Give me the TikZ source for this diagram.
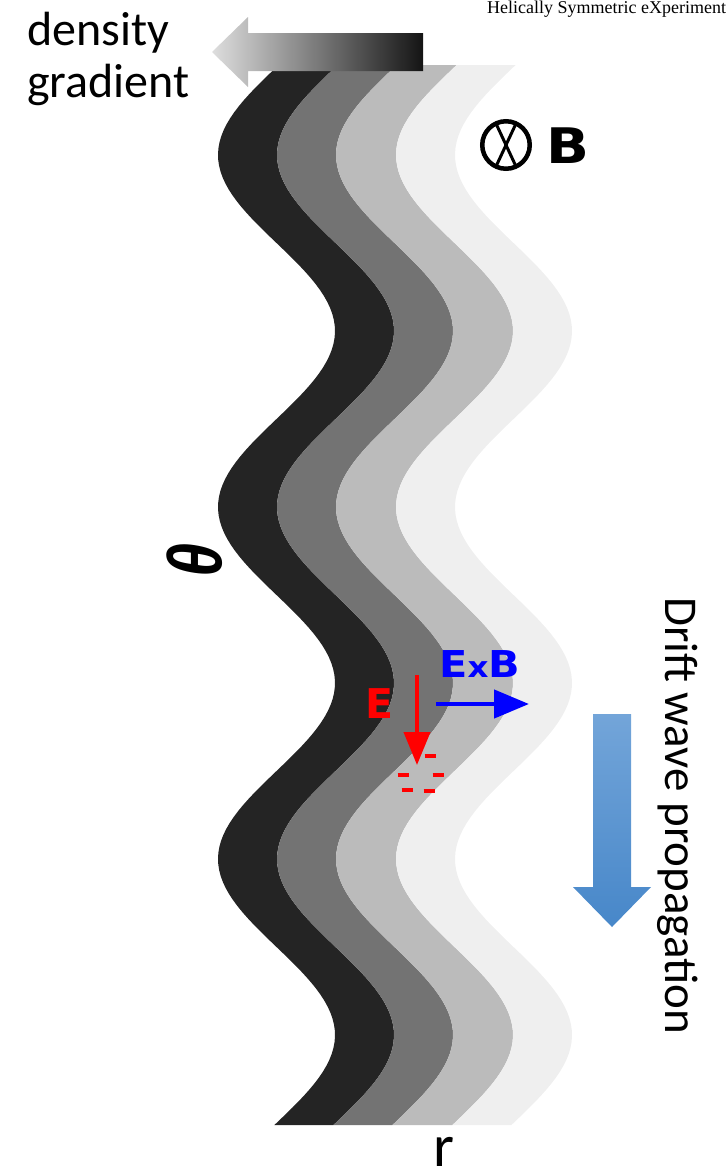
\documentclass[tikz,border=0pt]{standalone}
\usepackage{fontspec}
\setmainfont{Carlito}
\newfontfamily\labelfont{DejaVu Sans}
\newfontfamily\thetafont{Liberation Sans}
\newfontfamily\headfont{Liberation Serif}
\usetikzlibrary{arrows.meta}

\definecolor{denshi}{HTML}{242424}
\definecolor{densmid}{HTML}{737373}
\definecolor{denslo}{HTML}{BBBBBB}
\definecolor{densmin}{HTML}{EFEFEF}
\definecolor{driftA}{HTML}{73A5D9}
\definecolor{driftB}{HTML}{4787C9}

\begin{document}
\begin{tikzpicture}[x=1pt,y=-1pt,
    declare function={wave(\t)=276.5-58.5*cos((\t-155)/352*360);},
    big/.style={inner sep=0pt,font=\fontsize{48}{58}\selectfont},
    lbl/.style={inner sep=0pt,anchor=base west},
    charge/.style={red,line width=3.5pt}]
    \path[use as bounding box] (0,0) rectangle (728,1171);
    \clip (0,0) rectangle (728,1171);
    %% Density bands
    \foreach \col/\a/\b in {denshi/0/59,densmid/59/118,denslo/118/178,densmin/178/237}
        \fill[\col] plot[domain=65:1125,samples=180] ({wave(\x)+\a},\x)
            -- plot[domain=1125:65,samples=180] ({wave(\x)+\b},\x) -- cycle;
    %% Gradient arrow
    \shade[left color=black!13,middle color=black!24,right color=black!92]
        (423,33) -- (248,33) -- (248,17) -- (212,52) -- (248,87) -- (248,71) -- (423,71) -- cycle;
    \node[big,anchor=base west] (dens) at (27,45) {density};
    \node[big,anchor=base west] (grad) at (27,97) {gradient};
    \node[lbl,font=\headfont\fontsize{18}{20}\selectfont] (hsx) at (487,13) {Helically Symmetric eXperiment};
    %% Field into the page
    \node[circle,draw,line width=4.5pt,outer sep=0pt,minimum size=47.5pt,inner sep=0pt] (bcirc) at (506,145) {};
    \draw[line width=3pt] (bcirc.115) -- (bcirc.295) (bcirc.65) -- (bcirc.245);
    \node[lbl,xscale=1.15,font=\labelfont\bfseries\fontsize{49}{60}\selectfont] (bfield) at (546,163) {B};
    \node[rotate=-90,xscale=0.8,inner sep=0pt,font=\thetafont\bfseries\itshape\fontsize{76}{80}\selectfont] (theta) at (195,558) {θ};
    %% E and ExB drift
    \node[lbl,text=red,font=\labelfont\bfseries\fontsize{41}{50}\selectfont] (efield) at (365,718) {E};
    \coordinate (etop) at (417,675);
    \coordinate (etip) at (417,765);
    \draw[red,line width=4pt,-{Triangle[length=33pt,width=26pt]}] (etop) -- (etip);
    \foreach \cx/\cy in {430/756,403/775,438/775,407/790,429/791}
        \draw[charge] (\cx-5.5,\cy) -- (\cx+5.5,\cy);
    \node[lbl,xscale=1.12,text=blue,font=\labelfont\bfseries\fontsize{37}{44}\selectfont] (exb) at (439,677) {E{\fontsize{29}{30}\selectfont x}B};
    \coordinate (vtail) at (436,704);
    \coordinate (vtip) at (529,704);
    \draw[blue,line width=4.5pt,-{Triangle[length=35pt,width=28pt]}] (vtail) -- (vtip);
    %% Wave propagation
    \shade[top color=driftA,bottom color=driftB]
        (593,714) -- (631,714) -- (631,887) -- (651,887) -- (612,927) -- (573,887) -- (593,887) -- cycle;
    \node[big,rotate=-90,anchor=base west,font=\fontsize{47}{56}\selectfont] (drift) at (665,597) {Drift wave propagation};
    \node[lbl,font=\fontsize{60}{66}\selectfont] (rad) at (433,1166) {r};
\end{tikzpicture}
\end{document}
